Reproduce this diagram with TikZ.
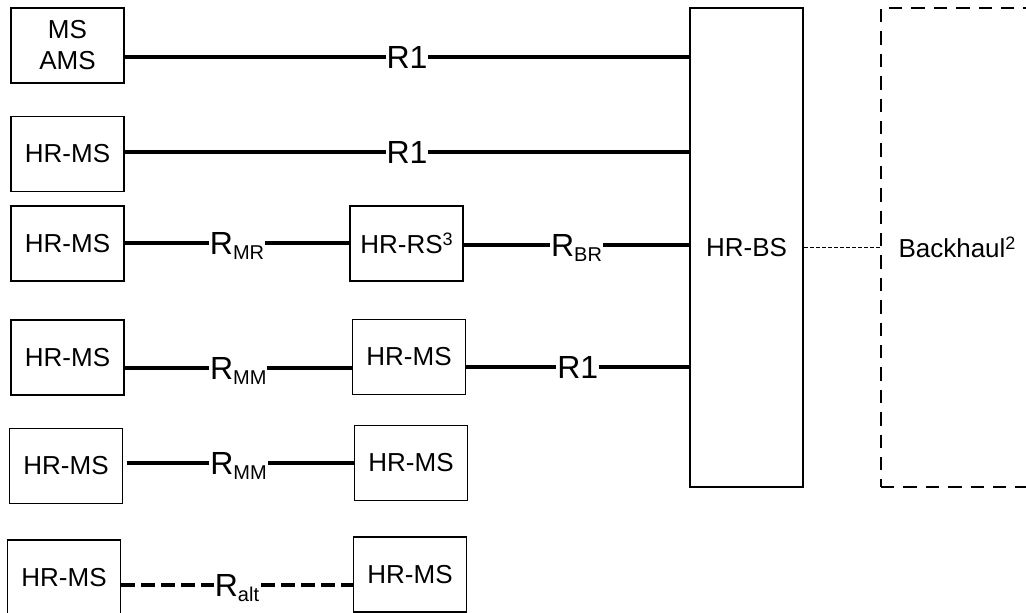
\documentclass[tikz,border=0pt]{standalone}
\usepackage{fontspec}
\setmainfont{Liberation Sans}
\newcommand{\lsub}[1]{\raisebox{-2.5pt}{\fontsize{10}{10}\selectfont #1}}
\newcommand{\lsup}[1]{\raisebox{4pt}{\fontsize{9}{9}\selectfont #1}}

\begin{document}
\begin{tikzpicture}[x=0.5pt, y=-0.5pt,
    unit/.style={draw, line width=0.8pt, minimum width=56.5pt, minimum height=37.5pt, inner sep=1pt, align=center, font=\fontsize{13}{15.5}\selectfont},
    link/.style={line width=1.6pt},
    altlink/.style={link, dash pattern=on 7pt off 3pt},
    rlabel/.style={fill=white, inner sep=0.5pt, text depth=0pt, font=\fontsize{16}{19}\selectfont}]
      \useasboundingbox (0, 0) rectangle (1026, 612);
      \clip (0, 0) rectangle (1026, 612);
      \node[unit] (ams) at (67.5, 45.5) {MS\\AMS};
      \node[unit] (ms2) at (67.5, 154) {HR-MS};
      \node[unit] (ms3) at (67.5, 243.5) {HR-MS};
      \node[unit] (rs3) at (406.5, 243.5) {HR-RS\lsup{3}};
      \node[unit] (ms4) at (67.5, 357.5) {HR-MS};
      \node[unit] (ms4b) at (409, 357) {HR-MS};
      \node[unit] (ms5) at (66, 466) {HR-MS};
      \node[unit] (ms5b) at (411, 463) {HR-MS};
      \node[unit] (ms6) at (64, 577.5) {HR-MS};
      \node[unit] (ms6b) at (410, 574.5) {HR-MS};
      \node[unit, minimum height=239.5pt] (bs) at (746.5, 247.5) {HR-BS};
      \node[unit, minimum width=76pt, minimum height=239.5pt, line width=0.7pt, dash pattern=on 6.7pt off 4.5pt] (backhaul) at (957, 247.5) {Backhaul\lsup{2}};
      \draw[link] (ams.east |- 0, 57) -- node[rlabel]{R1} (bs.west |- 0, 57);
      \draw[link] (ms2.east |- 0, 152) -- node[rlabel]{R1} (bs.west |- 0, 152);
      \draw[link] (ms3.east |- 0, 243) -- node[rlabel]{R\lsub{MR}} (rs3.west |- 0, 243);
      \draw[link] (rs3.east |- 0, 245) -- node[rlabel]{R\lsub{BR}} (bs.west |- 0, 245);
      \draw[link] (ms4.east |- 0, 368) -- node[rlabel]{R\lsub{MM}} (ms4b.west |- 0, 368);
      \draw[link] (ms4b.east |- 0, 367) -- node[rlabel]{R1} (bs.west |- 0, 367);
      \draw[link, shorten <=2pt] (ms5.east |- 0, 463) -- node[rlabel]{R\lsub{MM}} (ms5b.west |- 0, 463);
      \draw[altlink] (ms6.east |- 0, 585) -- node[rlabel]{R\lsub{alt}} (ms6b.west |- 0, 585);
      \draw[line width=0.4pt, dash pattern=on 2pt off 1pt] (bs.east) -- (backhaul.west);
    \end{tikzpicture}
\end{document}
